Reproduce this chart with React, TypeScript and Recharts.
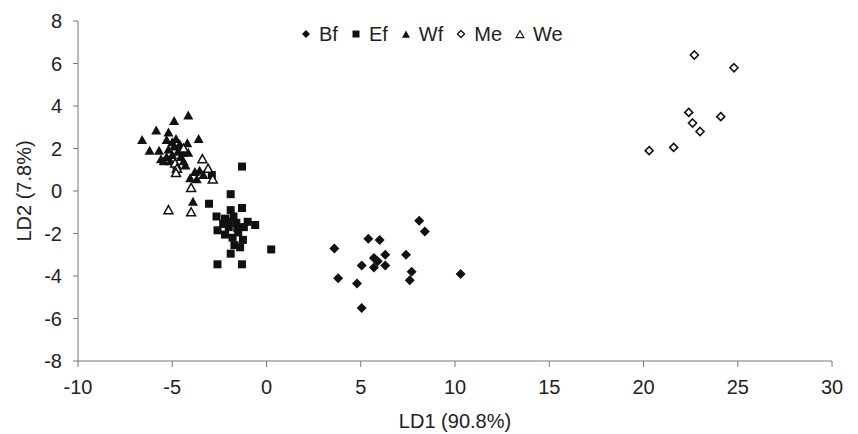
import { Label, Scatter, ScatterChart, XAxis, YAxis } from 'recharts';

const xTicks = [-10, -5, 0, 5, 10, 15, 20, 25, 30];
const yTicks = [-8, -6, -4, -2, 0, 2, 4, 6, 8];

const bf = [
  [8.1, -1.4], [8.4, -1.9], [5.4, -2.25], [6.0, -2.3], [3.6, -2.7], [6.3, -3.0],
  [7.4, -3.0], [5.7, -3.15], [5.9, -3.3], [5.05, -3.5], [6.3, -3.5], [5.7, -3.6],
  [7.7, -3.8], [7.6, -4.2], [10.3, -3.9], [3.8, -4.1], [4.8, -4.35], [5.05, -5.5]
];

const ef = [
  [-1.3, 1.15], [-2.9, 0.75], [-1.9, -0.15], [-3.05, -0.6], [-1.3, -0.8], [-1.9, -0.9],
  [-2.65, -1.2], [-2.2, -1.3], [-1.75, -1.2], [-1.0, -1.45], [-0.6, -1.6], [-1.2, -1.7],
  [-1.55, -1.75], [-2.0, -1.7], [-2.6, -1.85], [-2.2, -2.05], [-1.8, -2.2], [-1.25, -2.3],
  [-1.7, -2.55], [-1.4, -2.65], [0.25, -2.75], [-1.9, -2.95], [-2.6, -3.45], [-1.3, -3.45],
  [-2.0, -1.45], [-1.6, -1.5], [-1.5, -1.95], [-2.3, -1.55]
];

const wf = [
  [-6.6, 2.4], [-6.2, 1.9], [-5.85, 2.85], [-5.7, 1.9], [-5.2, 2.75], [-4.9, 3.3],
  [-4.15, 3.55], [-3.6, 2.45], [-5.3, 2.4], [-4.8, 2.45], [-4.2, 2.25], [-5.2, 1.95],
  [-4.7, 1.85], [-4.15, 1.8], [-5.45, 1.4], [-5.1, 1.4], [-4.4, 1.4], [-5.3, 1.6],
  [-4.55, 1.6], [-4.9, 2.1], [-5.0, 1.7], [-4.5, 2.0], [-4.3, 1.2], [-4.75, 1.2],
  [-5.0, 2.3], [-4.6, 2.2], [-3.55, 0.95], [-4.05, 0.6], [-3.7, 0.55], [-3.35, 0.75],
  [-3.9, -0.5], [-5.6, 1.5], [-4.4, 1.8], [-3.8, 0.9]
];

const me = [
  [22.7, 6.4], [24.8, 5.8], [22.4, 3.7], [24.1, 3.5], [22.6, 3.2], [23.0, 2.8],
  [21.6, 2.05], [20.3, 1.9]
];

const we = [
  [-3.4, 1.5], [-3.1, 1.05], [-2.85, 0.55], [-4.0, 0.15], [-5.2, -0.9], [-4.0, -1.0],
  [-4.4, 2.0], [-4.85, 1.3], [-4.75, 1.05], [-4.8, 0.85]
];

const toPoints = (pairs: number[][]) => pairs.map(([x, y]) => ({ x, y }));

const INK = '#111';

const diamond = (cx: number, cy: number, r: number) =>
  `${cx},${cy - r} ${cx + r},${cy} ${cx},${cy + r} ${cx - r},${cy}`;

const triangle = (cx: number, cy: number, r: number) =>
  `${cx},${cy - r} ${cx + r},${cy + r * 0.8} ${cx - r},${cy + r * 0.8}`;

const FilledDiamond = (p: any) => <polygon points={diamond(p.cx, p.cy, 5)} fill={INK} />;
const FilledSquare = (p: any) => <rect x={p.cx - 4} y={p.cy - 4} width={8} height={8} fill={INK} />;
const FilledTriangle = (p: any) => <polygon points={triangle(p.cx, p.cy, 5)} fill={INK} />;
const OpenDiamond = (p: any) => (
  <polygon points={diamond(p.cx, p.cy, 4)} fill="#fff" stroke={INK} strokeWidth={1.6} />
);
const OpenTriangle = (p: any) => (
  <polygon points={triangle(p.cx, p.cy, 4.5)} fill="#fff" stroke={INK} strokeWidth={1.5} />
);

const legendItems = [
  { name: 'Bf', icon: <polygon points={diamond(5, 5, 4)} fill={INK} /> },
  { name: 'Ef', icon: <rect x={1.5} y={1.5} width={7} height={7} fill={INK} /> },
  { name: 'Wf', icon: <polygon points={triangle(5, 5.5, 4)} fill={INK} /> },
  { name: 'Me', icon: <polygon points={diamond(5, 5, 3.5)} fill="#fff" stroke={INK} strokeWidth={1.3} /> },
  { name: 'We', icon: <polygon points={triangle(5, 5.5, 3.8)} fill="#fff" stroke={INK} strokeWidth={1.2} /> }
];

const tickStyle = { fill: '#222', fontSize: 20 };

export default function App() {
  return (
    <div
      style={{
        position: 'absolute',
        left: 0,
        top: 0,
        width: 858,
        height: 434,
        background: '#fff',
        fontFamily: '"Liberation Sans", Arial, Helvetica, sans-serif'
      }}
    >
      <ScatterChart width={858} height={434} margin={{ top: 21, right: 26, bottom: 0, left: 0 }}>
        <XAxis
          type="number"
          dataKey="x"
          domain={[-10, 30]}
          ticks={xTicks}
          height={73}
          stroke="#777"
          tickSize={6}
          tickMargin={13}
          tick={tickStyle}
        >
          <Label value="LD1 (90.8%)" position="insideBottom" offset={6} style={{ fill: '#222', fontSize: 20 }} />
        </XAxis>
        <YAxis
          type="number"
          dataKey="y"
          domain={[-8, 8]}
          ticks={yTicks}
          width={78}
          stroke="#777"
          tickSize={5}
          tickMargin={11}
          tick={tickStyle}
        >
          <Label
            value="LD2 (7.8%)"
            angle={-90}
            position="insideLeft"
            offset={24}
            style={{ fill: '#222', fontSize: 20, textAnchor: 'middle' }}
          />
        </YAxis>
        <Scatter name="Bf" data={toPoints(bf)} shape={FilledDiamond} isAnimationActive={false} />
        <Scatter name="Ef" data={toPoints(ef)} shape={FilledSquare} isAnimationActive={false} />
        <Scatter name="Wf" data={toPoints(wf)} shape={FilledTriangle} isAnimationActive={false} />
        <Scatter name="Me" data={toPoints(me)} shape={OpenDiamond} isAnimationActive={false} />
        <Scatter name="We" data={toPoints(we)} shape={OpenTriangle} isAnimationActive={false} />
      </ScatterChart>
      <div
        style={{
          position: 'absolute',
          left: 301,
          top: 22,
          display: 'flex',
          alignItems: 'center',
          gap: 13,
          fontSize: 20,
          color: '#222',
          lineHeight: '24px'
        }}
      >
        {legendItems.map((item) => (
          <div key={item.name} style={{ display: 'flex', alignItems: 'center', gap: 8 }}>
            <svg width={10} height={10}>{item.icon}</svg>
            <span>{item.name}</span>
          </div>
        ))}
      </div>
    </div>
  );
}
